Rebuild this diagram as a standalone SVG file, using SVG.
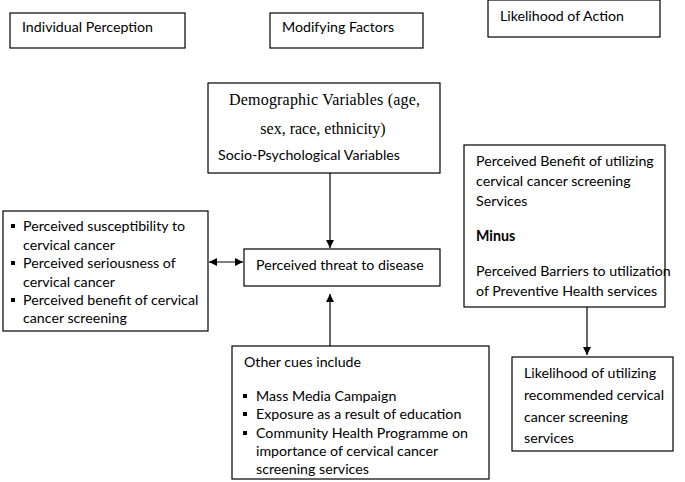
<svg xmlns="http://www.w3.org/2000/svg" width="685" height="482" viewBox="0 0 685 482">
<style>
.box{fill:#fff;stroke:#000;stroke-width:1.2}
.t{font-family:Lato,"Liberation Sans",sans-serif;font-size:14.2px;fill:#000}
.s{font-family:"Liberation Serif",serif;font-size:16px;fill:#000}
.b{font-weight:bold}
.ln{stroke:#000;stroke-width:1.2;fill:none}
.bul{fill:#000}
</style>
<defs>
<marker id="ah" viewBox="0 0 10 10" refX="10" refY="5" markerWidth="8" markerHeight="8" markerUnits="userSpaceOnUse" orient="auto-start-reverse">
<path d="M0,0 L10,5 L0,10 z" fill="#000"/>
</marker>
</defs>
<rect width="685" height="482" fill="#fff"/>
<g id="individual-perception">
<rect class="box" x="10" y="13" width="175" height="35"/>
<text class="t" x="22" y="32">Individual Perception</text>
</g>
<g id="modifying-factors">
<rect class="box" x="270" y="13" width="153" height="35"/>
<text class="t" x="282" y="32">Modifying Factors</text>
</g>
<g id="likelihood-of-action">
<rect class="box" x="488" y="0" width="172" height="37"/>
<text class="t" x="500" y="21">Likelihood of Action</text>
</g>
<g id="demographic">
<rect class="box" x="208" y="83" width="232" height="90"/>
<text class="s" x="229" y="105" textLength="191" lengthAdjust="spacing">Demographic Variables (age,</text>
<text class="s" x="323" y="134" text-anchor="middle">sex, race, ethnicity)</text>
<text class="t" x="218" y="160">Socio-Psychological Variables</text>
</g>
<g id="individual-factors">
<rect class="box" x="3" y="211" width="205" height="120"/>
<rect class="bul" x="11" y="224" width="4" height="4"/>
<text class="t" x="23" y="231">Perceived susceptibility to</text>
<text class="t" x="23" y="250">cervical cancer</text>
<rect class="bul" x="11" y="261" width="4" height="4"/>
<text class="t" x="23" y="268">Perceived seriousness of</text>
<text class="t" x="23" y="287">cervical cancer</text>
<rect class="bul" x="11" y="298" width="4" height="4"/>
<text class="t" x="23" y="305">Perceived benefit of cervical</text>
<text class="t" x="23" y="323">cancer screening</text>
</g>
<g id="perceived-threat">
<rect class="box" x="244" y="249" width="196" height="37"/>
<text class="t" x="256" y="270">Perceived threat to disease</text>
</g>
<g id="benefits-barriers">
<rect class="box" x="464" y="145" width="201" height="162"/>
<text class="t" x="476" y="166">Perceived Benefit of utilizing</text>
<text class="t" x="476" y="186">cervical cancer screening</text>
<text class="t" x="476" y="206">Services</text>
<text class="t b" x="476" y="241">Minus</text>
<text class="t" x="476" y="276">Perceived Barriers to utilization</text>
<text class="t" x="476" y="296">of Preventive Health services</text>
</g>
<g id="other-cues">
<rect class="box" x="232" y="346" width="257" height="133"/>
<text class="t" x="244" y="367">Other cues include</text>
<rect class="bul" x="243" y="394" width="4" height="4"/>
<text class="t" x="256" y="401">Mass Media Campaign</text>
<rect class="bul" x="243" y="412" width="4" height="4"/>
<text class="t" x="256" y="419">Exposure as a result of education</text>
<rect class="bul" x="243" y="431" width="4" height="4"/>
<text class="t" x="256" y="438">Community Health Programme on</text>
<text class="t" x="256" y="456">importance of cervical cancer</text>
<text class="t" x="256" y="474">screening services</text>
</g>
<g id="likelihood-utilizing">
<rect class="box" x="512" y="357" width="161" height="94"/>
<text class="t" x="524" y="378">Likelihood of utilizing</text>
<text class="t" x="524" y="400">recommended cervical</text>
<text class="t" x="524" y="422">cancer screening</text>
<text class="t" x="524" y="443">services</text>
</g>
<g id="connectors">
<line class="ln" x1="209" y1="262" x2="243" y2="262" marker-start="url(#ah)" marker-end="url(#ah)"/>
<line class="ln" x1="330" y1="173" x2="330" y2="248" marker-end="url(#ah)"/>
<line class="ln" x1="330" y1="346" x2="330" y2="294" marker-end="url(#ah)"/>
<line class="ln" x1="587" y1="307" x2="587" y2="355" marker-end="url(#ah)"/>
</g>
</svg>
